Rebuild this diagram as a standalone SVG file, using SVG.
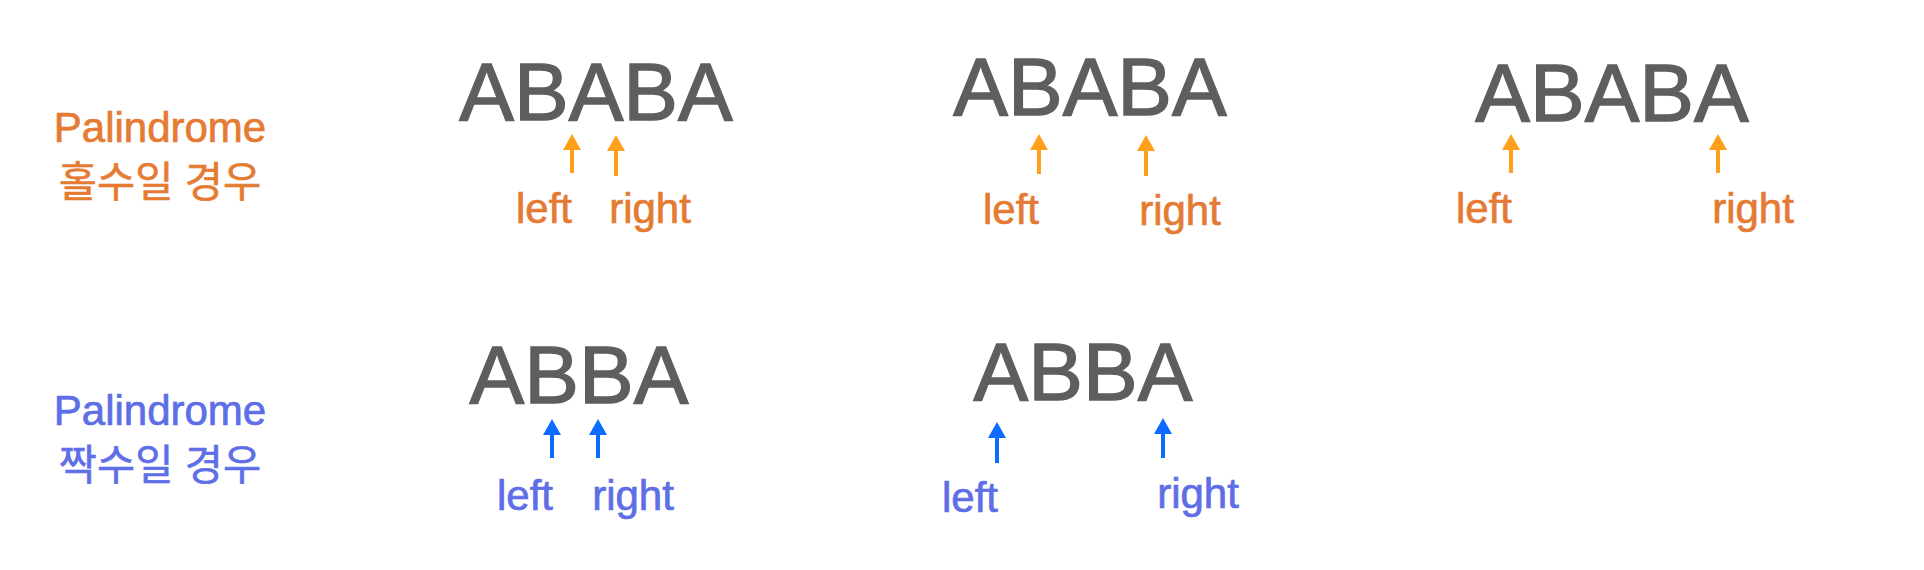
<svg xmlns="http://www.w3.org/2000/svg" width="1924" height="570" viewBox="0 0 1924 570">
<style>
.word{font-family:"Liberation Sans",Arial,sans-serif;font-size:82px;fill:#5E5E5E;stroke:#5E5E5E;stroke-width:1.4;text-anchor:middle}
.lab{font-family:"Liberation Sans",Arial,sans-serif;font-size:42px;stroke-width:0.7;text-anchor:middle}
.ko{font-family:"Liberation Sans","Noto Sans CJK KR",sans-serif;font-size:41.5px;stroke-width:0.6;text-anchor:middle}
.or{fill:#E57B33;stroke:#E57B33}
.bl{fill:#5D6EE6;stroke:#5D6EE6}
.ao{stroke:#FFA01C;stroke-width:4;fill:none;marker-end:url(#ho)}
.ab{stroke:#0B6CFF;stroke-width:4;fill:none;marker-end:url(#hb)}
</style>
<defs>
<marker id="ho" viewBox="0 -9 16 18" markerWidth="16" markerHeight="18" refX="1" refY="0" orient="auto" markerUnits="userSpaceOnUse"><path d="M0,-9 L16,0 L0,9 z" fill="#FFA01C"/></marker>
<marker id="hb" viewBox="0 -9 16 18" markerWidth="16" markerHeight="18" refX="1" refY="0" orient="auto" markerUnits="userSpaceOnUse"><path d="M0,-9 L16,0 L0,9 z" fill="#0B6CFF"/></marker>
</defs>
<rect width="1924" height="570" fill="#FFFFFF"/>
<g id="title-odd">
<text class="lab or" x="160" y="142">Palindrome</text>
<text class="ko or" x="160" y="197">홀수일 경우</text>
</g>
<g id="title-even">
<text class="lab bl" x="160" y="425">Palindrome</text>
<text class="ko bl" x="160" y="480">짝수일 경우</text>
</g>
<g id="odd-step1">
<text class="word" x="596" y="120">ABABA</text>
<text class="lab or" x="544" y="223">left</text>
<text class="lab or" x="650" y="223">right</text>
</g>
<g id="odd-step2">
<text class="word" x="1090" y="115">ABABA</text>
<text class="lab or" x="1011" y="224">left</text>
<text class="lab or" x="1180" y="225">right</text>
</g>
<g id="odd-step3">
<text class="word" x="1612" y="121">ABABA</text>
<text class="lab or" x="1484" y="223">left</text>
<text class="lab or" x="1753" y="223">right</text>
</g>
<g id="even-step1">
<text class="word" x="579" y="403">ABBA</text>
<text class="lab bl" x="525" y="510">left</text>
<text class="lab bl" x="633" y="510">right</text>
</g>
<g id="even-step2">
<text class="word" x="1083" y="400">ABBA</text>
<text class="lab bl" x="970" y="512">left</text>
<text class="lab bl" x="1198" y="508">right</text>
</g>
<g id="connectors">
<line class="ao" x1="572" y1="173" x2="572" y2="149"/>
<line class="ao" x1="616" y1="176" x2="616" y2="150"/>
<line class="ao" x1="1039" y1="174" x2="1039" y2="149"/>
<line class="ao" x1="1146" y1="176" x2="1146" y2="150"/>
<line class="ao" x1="1511" y1="173" x2="1511" y2="149"/>
<line class="ao" x1="1718" y1="173" x2="1718" y2="149"/>
<line class="ab" x1="552" y1="458" x2="552" y2="434"/>
<line class="ab" x1="598" y1="458" x2="598" y2="434"/>
<line class="ab" x1="997" y1="463" x2="997" y2="437"/>
<line class="ab" x1="1163" y1="458" x2="1163" y2="433"/>
</g>
</svg>
